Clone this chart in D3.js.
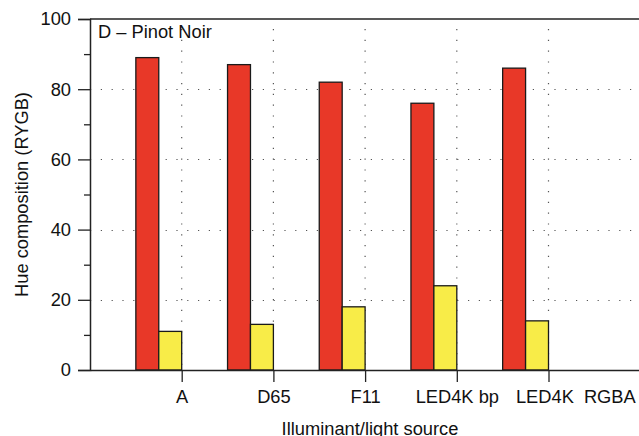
<!DOCTYPE html>
<html>
<head>
<meta charset="utf-8">
<script src="https://cdn.jsdelivr.net/npm/d3@7"></script>
<style>
  html, body { margin: 0; padding: 0; background: #fff; }
  svg { display: block; font-family: "Liberation Sans", Arial, sans-serif; }
</style>
</head>
<body>
<svg id="chart" width="639" height="436"></svg>
<script>
// ---- data ----
const categories = ["A", "D65", "F11", "LED4K bp", "LED4K", "RGBA"];
const series = ["R", "Y", "G", "B"];
const red    = [89, 87, 82, 76, 86, 0];
const yellow = [11, 13, 18, 24, 14, 0];
const green  = [0, 0, 0, 0, 0, 0];
const blue   = [0, 0, 0, 0, 0, 0];
const yTicks = [0, 20, 40, 60, 80, 100];
const yMinorTicks = [10, 30, 50, 70, 90];
const panelTitle = "D \u2013 Pinot Noir";
const xTitle = "Illuminant/light source";
const yTitle = "Hue composition (RYGB)";

(function () {
const seriesValues = { R: red, Y: yellow, G: green, B: blue };
const colors = { R: "#e83828", Y: "#f8ec48", G: "#3aa845", B: "#2a5db0" };
const FS = 18.3;
const FF = "Liberation Sans, Arial, sans-serif";

// ---- layout ----
const W = 639;
const mLeft = 90, mTop = 19, mBottom = 370;
const step = 91.7;

const svg = d3.select("#chart");

const x = d3.scaleLinear().domain([0, categories.length + 1]).range([mLeft, mLeft + step * (categories.length + 1)]);
const y = d3.scaleLinear().domain([0, 100]).range([mBottom, mTop]);
const xs = d3.scaleBand().domain(series).range([-step / 2, step / 2]).padding(0);

// grid
const grid = svg.append("g").attr("stroke", "#555").attr("stroke-width", 1.2)
  .attr("stroke-dasharray", "1.2,9.6");
grid.selectAll("line.h").data(yTicks.filter(t => t > 0 && t < 100)).join("line")
  .attr("x1", mLeft).attr("x2", W)
  .attr("y1", d => Math.round(y(d)) + 0.5).attr("y2", d => Math.round(y(d)) + 0.5);
grid.selectAll("line.v").data(categories.slice(0, 5)).join("line")
  .attr("x1", (d, i) => x(i + 1)).attr("x2", (d, i) => x(i + 1))
  .attr("y1", mTop + 10).attr("y2", mBottom);

// bars
const rows = categories.map((c, i) => ({ c, i }));
const groups = svg.append("g").selectAll("g").data(rows).join("g")
  .attr("transform", d => `translate(${x(d.i + 1)},0)`);
groups.selectAll("rect")
  .data(d => series.map(s => ({ s, v: seriesValues[s][d.i] })).filter(e => e.v > 0))
  .join("rect")
  .attr("x", d => xs(d.s))
  .attr("width", xs.bandwidth())
  .attr("y", d => y(d.v))
  .attr("height", d => y(0) - y(d.v))
  .attr("fill", d => colors[d.s])
  .attr("stroke", "#1a1a1a")
  .attr("stroke-width", 1.3);

// frame: top border
svg.append("line").attr("x1", mLeft).attr("x2", W).attr("y1", mTop).attr("y2", mTop)
  .attr("stroke", "#222").attr("stroke-width", 1.5);

// y axis
const yAxis = d3.axisLeft(y).tickValues(yTicks).tickSize(12).tickPadding(7);
const gy = svg.append("g").attr("transform", `translate(${mLeft},0)`).call(yAxis);
gy.select(".domain").attr("stroke", "#222").attr("stroke-width", 1.5);
gy.selectAll(".tick line").attr("stroke", "#222").attr("stroke-width", 1.3);
gy.selectAll(".tick text").attr("font-size", FS).attr("fill", "#111").attr("font-family", FF);
const gyMinor = svg.append("g").attr("transform", `translate(${mLeft},0)`)
  .call(d3.axisLeft(y).tickValues(yMinorTicks).tickSize(6).tickFormat(""));
gyMinor.select(".domain").remove();
gyMinor.selectAll(".tick line").attr("stroke", "#222").attr("stroke-width", 1.3);

// x axis
const xAxis = d3.axisBottom(x).tickValues(categories.map((c, i) => i + 1))
  .tickFormat((d) => categories[d - 1]).tickSize(12).tickPadding(8).tickSizeOuter(0);
const gx = svg.append("g").attr("transform", `translate(0,${mBottom})`).call(xAxis);
gx.select(".domain").attr("stroke", "#222").attr("stroke-width", 1.5);
gx.selectAll(".tick line").attr("stroke", "#222").attr("stroke-width", 1.3);
gx.selectAll(".tick text").attr("font-size", FS).attr("fill", "#111").attr("font-family", FF);
// keep labels inside the viewport and resolve collisions from right to left
const ticks = gx.selectAll(".tick").nodes();
let limit = W - 3;
for (let k = ticks.length - 1; k >= 0; k--) {
  const g = d3.select(ticks[k]);
  const t = g.select("text");
  const bb = t.node().getBBox();
  const cx = x(g.datum());
  const right = cx + bb.x + bb.width;
  const shift = Math.min(0, limit - right);
  t.attr("dx", shift);
  limit = cx + bb.x + shift - 10;
}

// panel title
svg.append("text").attr("x", mLeft + 8).attr("y", mTop + 19)
  .attr("font-size", FS).attr("font-family", FF).attr("fill", "#111").text(panelTitle);

// axis titles
svg.append("text").attr("x", 370).attr("y", 435)
  .attr("text-anchor", "middle").attr("font-size", FS).attr("font-family", FF)
  .attr("fill", "#111").text(xTitle);
svg.append("text")
  .attr("transform", `translate(27.5,${(mTop + mBottom) / 2}) rotate(-90)`)
  .attr("text-anchor", "middle").attr("font-size", FS).attr("font-family", FF)
  .attr("fill", "#111").text(yTitle);
})();
</script>
</body>
</html>
